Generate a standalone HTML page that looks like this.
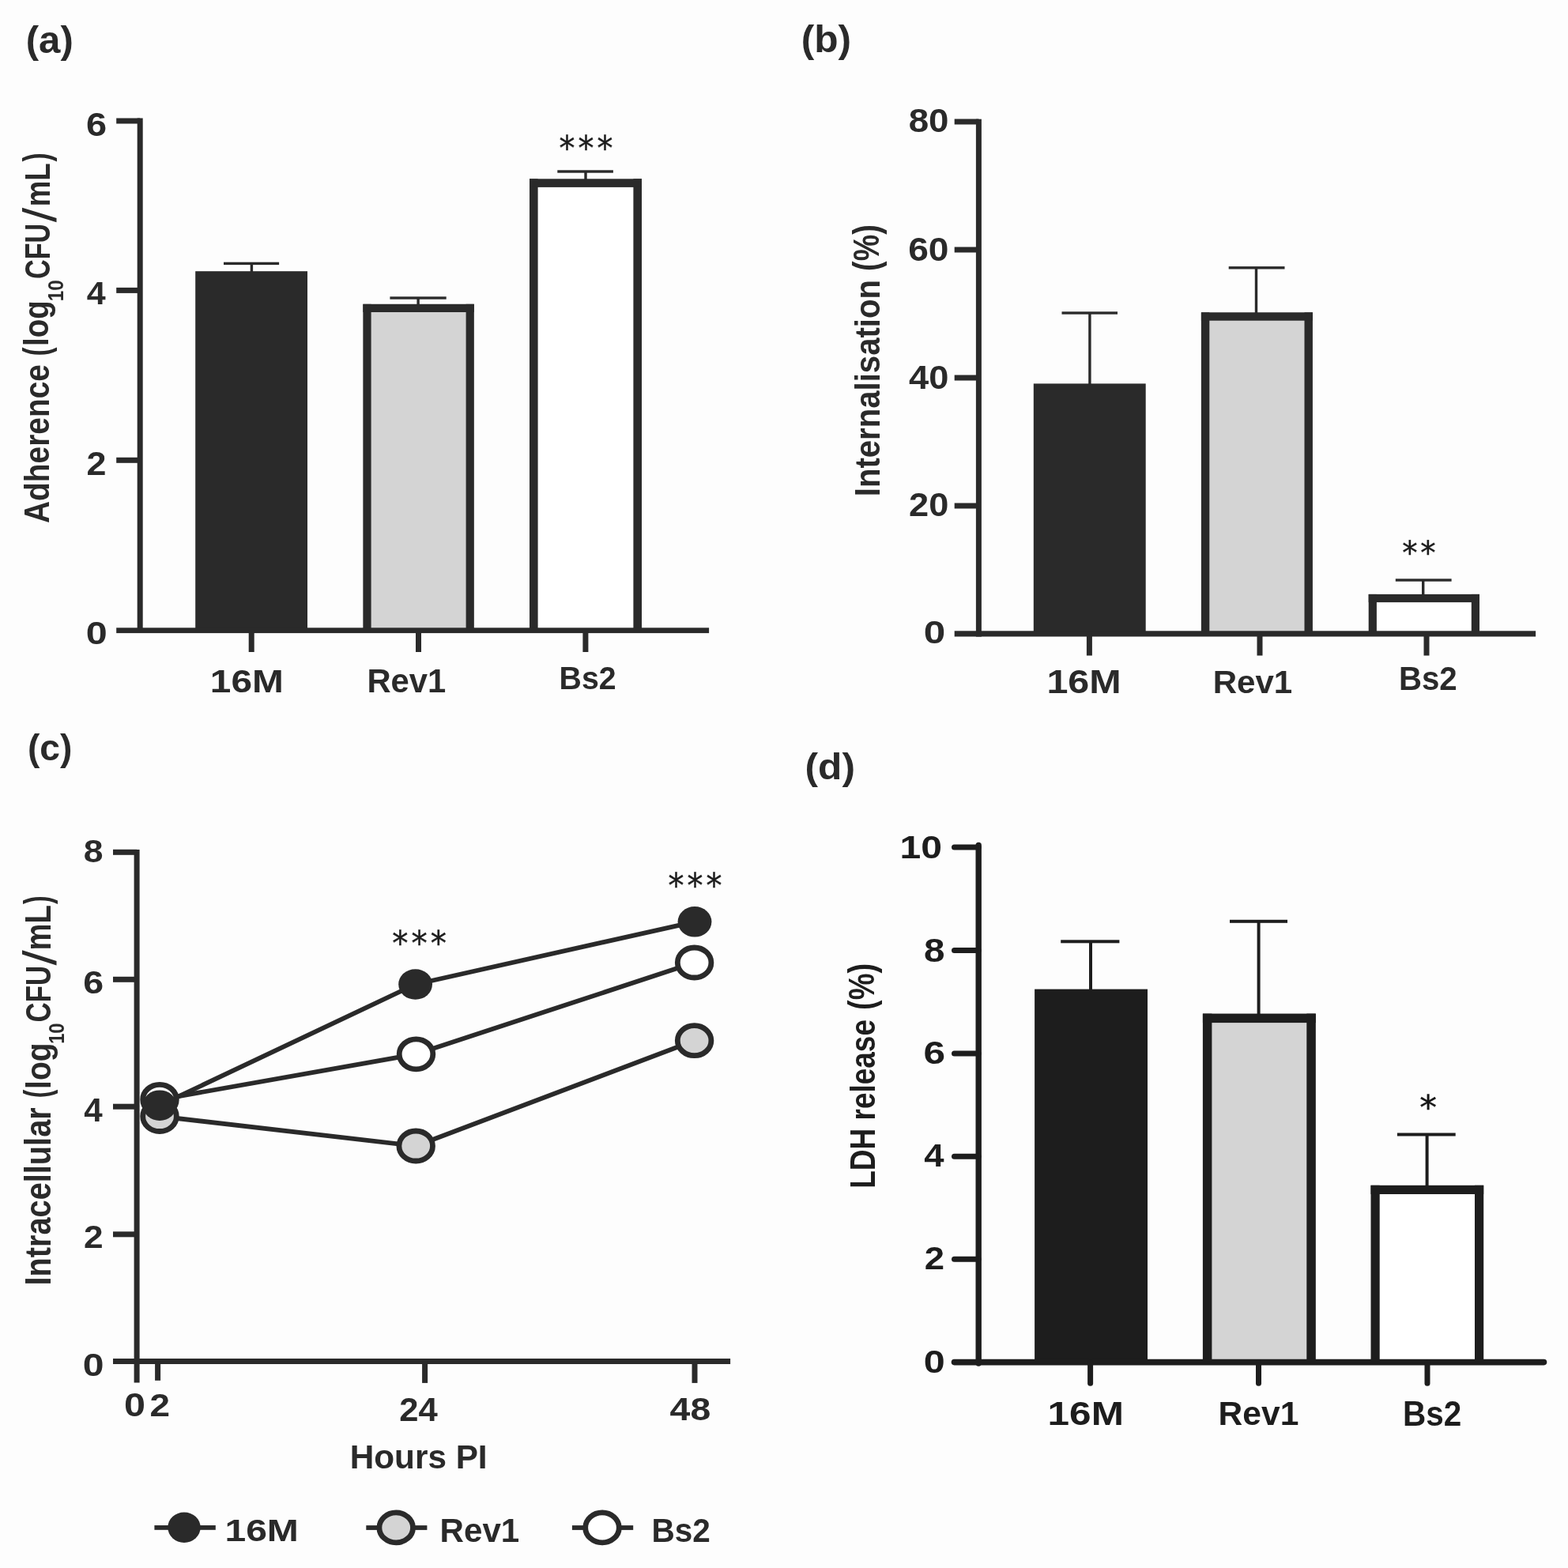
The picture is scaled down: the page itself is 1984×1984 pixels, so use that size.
<!DOCTYPE html>
<html><head><meta charset="utf-8"><title>Figure</title>
<style>
html,body{margin:0;padding:0;background:#fdfdfd;}
svg{display:block;}
</style></head>
<body>
<svg width="1984" height="1984" viewBox="0 0 1984 1984">
<rect x="0" y="0" width="1984" height="1984" fill="#fdfdfd"/>
<rect x="247.20" y="343.20" width="141.80" height="454.50" fill="#2a2a2a"/>
<rect x="459.40" y="384.80" width="140.40" height="412.90" fill="#d4d4d4"/>
<rect x="459.40" y="384.80" width="10.20" height="412.90" fill="#2a2a2a"/>
<rect x="589.60" y="384.80" width="10.20" height="412.90" fill="#2a2a2a"/>
<rect x="459.40" y="384.80" width="140.40" height="10.20" fill="#2a2a2a"/>
<rect x="670.00" y="226.30" width="142.00" height="571.40" fill="#ffffff"/>
<rect x="670.00" y="226.30" width="10.60" height="571.40" fill="#2a2a2a"/>
<rect x="801.40" y="226.30" width="10.60" height="571.40" fill="#2a2a2a"/>
<rect x="670.00" y="226.30" width="142.00" height="10.60" fill="#2a2a2a"/>
<rect x="316.70" y="333.40" width="3.40" height="10.80" fill="#2a2a2a"/>
<rect x="283.00" y="331.70" width="70.10" height="3.40" fill="#2a2a2a"/>
<rect x="527.40" y="377.00" width="3.40" height="8.80" fill="#2a2a2a"/>
<rect x="493.40" y="375.30" width="71.30" height="3.40" fill="#2a2a2a"/>
<rect x="739.30" y="217.00" width="3.40" height="10.30" fill="#2a2a2a"/>
<rect x="705.30" y="215.30" width="70.60" height="3.40" fill="#2a2a2a"/>
<rect x="1307.80" y="485.40" width="141.90" height="316.50" fill="#2a2a2a"/>
<rect x="1519.90" y="395.30" width="141.00" height="406.60" fill="#d4d4d4"/>
<rect x="1519.90" y="395.30" width="10.40" height="406.60" fill="#2a2a2a"/>
<rect x="1650.50" y="395.30" width="10.40" height="406.60" fill="#2a2a2a"/>
<rect x="1519.90" y="395.30" width="141.00" height="10.40" fill="#2a2a2a"/>
<rect x="1731.70" y="751.90" width="140.30" height="50.00" fill="#ffffff"/>
<rect x="1731.70" y="751.90" width="10.20" height="50.00" fill="#2a2a2a"/>
<rect x="1861.80" y="751.90" width="10.20" height="50.00" fill="#2a2a2a"/>
<rect x="1731.70" y="751.90" width="140.30" height="10.20" fill="#2a2a2a"/>
<rect x="1377.20" y="396.00" width="3.40" height="90.40" fill="#2a2a2a"/>
<rect x="1343.50" y="394.30" width="70.50" height="3.40" fill="#2a2a2a"/>
<rect x="1587.80" y="338.80" width="3.40" height="57.50" fill="#2a2a2a"/>
<rect x="1554.70" y="337.10" width="70.80" height="3.40" fill="#2a2a2a"/>
<rect x="1799.00" y="734.00" width="3.40" height="18.90" fill="#2a2a2a"/>
<rect x="1765.80" y="732.30" width="70.80" height="3.40" fill="#2a2a2a"/>
<rect x="1309.10" y="1251.60" width="142.90" height="472.00" fill="#1d1d1d"/>
<rect x="1521.90" y="1282.60" width="142.90" height="441.00" fill="#d4d4d4"/>
<rect x="1521.90" y="1282.60" width="11.50" height="441.00" fill="#1d1d1d"/>
<rect x="1653.30" y="1282.60" width="11.50" height="441.00" fill="#1d1d1d"/>
<rect x="1521.90" y="1282.60" width="142.90" height="11.50" fill="#1d1d1d"/>
<rect x="1734.50" y="1499.80" width="142.70" height="223.80" fill="#ffffff"/>
<rect x="1734.50" y="1499.80" width="11.20" height="223.80" fill="#1d1d1d"/>
<rect x="1866.00" y="1499.80" width="11.20" height="223.80" fill="#1d1d1d"/>
<rect x="1734.50" y="1499.80" width="142.70" height="11.20" fill="#1d1d1d"/>
<rect x="1378.00" y="1191.30" width="4.00" height="61.30" fill="#1d1d1d"/>
<rect x="1342.20" y="1189.30" width="74.20" height="4.00" fill="#1d1d1d"/>
<rect x="1590.60" y="1165.80" width="4.00" height="117.80" fill="#1d1d1d"/>
<rect x="1556.00" y="1163.80" width="73.00" height="4.00" fill="#1d1d1d"/>
<rect x="1803.60" y="1435.50" width="4.00" height="65.30" fill="#1d1d1d"/>
<rect x="1767.90" y="1433.50" width="73.80" height="4.00" fill="#1d1d1d"/>
<rect x="173.70" y="149.50" width="7.00" height="651.30" fill="#2a2a2a"/>
<rect x="147.20" y="794.30" width="749.90" height="6.80" fill="#2a2a2a"/>
<rect x="147.20" y="149.50" width="30.00" height="7.00" fill="#2a2a2a"/>
<rect x="147.20" y="363.90" width="30.00" height="7.00" fill="#2a2a2a"/>
<rect x="147.20" y="578.80" width="30.00" height="7.00" fill="#2a2a2a"/>
<rect x="314.70" y="797.00" width="7.00" height="28.00" fill="#2a2a2a"/>
<rect x="526.00" y="797.00" width="7.00" height="28.00" fill="#2a2a2a"/>
<rect x="737.40" y="797.00" width="7.00" height="28.00" fill="#2a2a2a"/>
<rect x="1234.90" y="150.70" width="7.00" height="654.90" fill="#2a2a2a"/>
<rect x="1207.70" y="798.30" width="735.40" height="7.20" fill="#2a2a2a"/>
<rect x="1207.70" y="150.50" width="30.70" height="7.00" fill="#2a2a2a"/>
<rect x="1207.70" y="312.50" width="30.70" height="7.00" fill="#2a2a2a"/>
<rect x="1207.70" y="474.50" width="30.70" height="7.00" fill="#2a2a2a"/>
<rect x="1207.70" y="636.50" width="30.70" height="7.00" fill="#2a2a2a"/>
<rect x="1374.90" y="801.00" width="7.00" height="28.50" fill="#2a2a2a"/>
<rect x="1590.50" y="801.00" width="7.00" height="28.50" fill="#2a2a2a"/>
<rect x="1801.50" y="801.00" width="7.00" height="28.50" fill="#2a2a2a"/>
<rect x="169.60" y="1075.00" width="7.00" height="674.50" fill="#2a2a2a"/>
<rect x="143.00" y="1719.00" width="781.10" height="7.00" fill="#2a2a2a"/>
<rect x="143.00" y="1074.80" width="30.10" height="7.00" fill="#2a2a2a"/>
<rect x="143.00" y="1235.80" width="30.10" height="7.00" fill="#2a2a2a"/>
<rect x="143.00" y="1396.70" width="30.10" height="7.00" fill="#2a2a2a"/>
<rect x="143.00" y="1558.30" width="30.10" height="7.00" fill="#2a2a2a"/>
<rect x="196.10" y="1722.00" width="7.00" height="24.80" fill="#2a2a2a"/>
<rect x="534.10" y="1722.00" width="7.00" height="27.90" fill="#2a2a2a"/>
<rect x="875.50" y="1722.00" width="7.00" height="27.90" fill="#2a2a2a"/>
<line x1="1238.20" y1="1069.50" x2="1238.20" y2="1725.00" stroke="#1d1d1d" stroke-width="7.4" stroke-linecap="round"/>
<line x1="1207.50" y1="1723.60" x2="1953.50" y2="1723.60" stroke="#1d1d1d" stroke-width="7.6" stroke-linecap="round"/>
<line x1="1207.50" y1="1072.00" x2="1238.20" y2="1072.00" stroke="#1d1d1d" stroke-width="7" stroke-linecap="round"/>
<line x1="1207.50" y1="1202.50" x2="1238.20" y2="1202.50" stroke="#1d1d1d" stroke-width="7" stroke-linecap="round"/>
<line x1="1207.50" y1="1333.00" x2="1238.20" y2="1333.00" stroke="#1d1d1d" stroke-width="7" stroke-linecap="round"/>
<line x1="1207.50" y1="1463.20" x2="1238.20" y2="1463.20" stroke="#1d1d1d" stroke-width="7" stroke-linecap="round"/>
<line x1="1207.50" y1="1593.20" x2="1238.20" y2="1593.20" stroke="#1d1d1d" stroke-width="7" stroke-linecap="round"/>
<line x1="1379.60" y1="1724.00" x2="1379.60" y2="1750.20" stroke="#1d1d1d" stroke-width="7" stroke-linecap="round"/>
<line x1="1592.50" y1="1724.00" x2="1592.50" y2="1750.20" stroke="#1d1d1d" stroke-width="7" stroke-linecap="round"/>
<line x1="1806.00" y1="1724.00" x2="1806.00" y2="1750.20" stroke="#1d1d1d" stroke-width="7" stroke-linecap="round"/>
<path d="M202.0,1412.5 L526.2,1450.0 L878.6,1316.7" fill="none" stroke="#2a2a2a" stroke-width="5.8" stroke-linejoin="round"/>
<path d="M202.0,1391.3 L526.5,1333.8 L878.6,1218.0" fill="none" stroke="#2a2a2a" stroke-width="5.8" stroke-linejoin="round"/>
<path d="M202.0,1398.7 L525.6,1245.5 L879.0,1166.3" fill="none" stroke="#2a2a2a" stroke-width="5.8" stroke-linejoin="round"/>
<ellipse cx="202.00" cy="1412.50" rx="21.3" ry="19.0" fill="#d4d4d4" stroke="#2a2a2a" stroke-width="6.8"/>
<ellipse cx="526.20" cy="1450.00" rx="21.3" ry="19.0" fill="#d4d4d4" stroke="#2a2a2a" stroke-width="6.8"/>
<ellipse cx="878.60" cy="1316.70" rx="21.3" ry="19.0" fill="#d4d4d4" stroke="#2a2a2a" stroke-width="6.8"/>
<ellipse cx="202.00" cy="1391.30" rx="21.3" ry="19.0" fill="#ffffff" stroke="#2a2a2a" stroke-width="6.8"/>
<ellipse cx="526.50" cy="1333.80" rx="21.3" ry="19.0" fill="#ffffff" stroke="#2a2a2a" stroke-width="6.8"/>
<ellipse cx="878.60" cy="1218.00" rx="21.3" ry="19.0" fill="#ffffff" stroke="#2a2a2a" stroke-width="6.8"/>
<ellipse cx="202.00" cy="1398.70" rx="21.4" ry="19.3" fill="#2a2a2a"/>
<ellipse cx="525.60" cy="1245.50" rx="21.4" ry="19.3" fill="#2a2a2a"/>
<ellipse cx="879.00" cy="1166.30" rx="21.4" ry="19.3" fill="#2a2a2a"/>
<rect x="195.40" y="1930.00" width="77.40" height="5.80" fill="#2a2a2a"/>
<ellipse cx="233.00" cy="1932.70" rx="20.7" ry="19.2" fill="#2a2a2a"/>
<rect x="463.30" y="1930.10" width="77.10" height="5.80" fill="#2a2a2a"/>
<ellipse cx="501.20" cy="1932.90" rx="21.3" ry="19.0" fill="#d4d4d4" stroke="#2a2a2a" stroke-width="6.8"/>
<rect x="723.90" y="1930.10" width="77.30" height="5.80" fill="#2a2a2a"/>
<ellipse cx="762.00" cy="1932.90" rx="21.3" ry="19.0" fill="#ffffff" stroke="#2a2a2a" stroke-width="6.8"/>
<text transform="matrix(0.49196,0,0,0.47872,32.740,66.547)" font-family="'Liberation Sans', sans-serif" font-weight="bold" font-size="100" fill="#2a2a2a">(a)</text>
<text transform="matrix(0.39878,0,0,0.42889,707.604,201.738)" font-family="'DejaVu Sans', sans-serif" font-weight="normal" font-size="100" letter-spacing="10" stroke="#1c1c1c" stroke-width="1" fill="#1c1c1c">***</text>
<text transform="matrix(0.46875,0,0,0.42254,109.025,171.577)" font-family="'Liberation Sans', sans-serif" font-weight="bold" font-size="100" fill="#2a2a2a">6</text>
<text transform="matrix(0.43019,0,0,0.40435,109.740,385.400)" font-family="'Liberation Sans', sans-serif" font-weight="bold" font-size="100" fill="#2a2a2a">4</text>
<text transform="matrix(0.44898,0,0,0.42143,109.553,601.300)" font-family="'Liberation Sans', sans-serif" font-weight="bold" font-size="100" fill="#2a2a2a">2</text>
<text transform="matrix(0.48511,0,0,0.41549,108.660,815.185)" font-family="'Liberation Sans', sans-serif" font-weight="bold" font-size="100" fill="#2a2a2a">0</text>
<text transform="matrix(0.47802,0,0,0.40845,265.832,875.992)" font-family="'Liberation Sans', sans-serif" font-weight="bold" font-size="100" fill="#2a2a2a">16M</text>
<text transform="matrix(0.41790,0,0,0.42571,464.375,876.174)" font-family="'Liberation Sans', sans-serif" font-weight="bold" font-size="100" fill="#2a2a2a">Rev1</text>
<text transform="matrix(0.39302,0,0,0.40845,707.549,872.492)" font-family="'Liberation Sans', sans-serif" font-weight="bold" font-size="100" fill="#2a2a2a">Bs2</text>
<text transform="matrix(0,-0.38863,0.44324,0,62.457,661.966)" font-family="'Liberation Sans', sans-serif" font-weight="bold" font-size="100" fill="#2a2a2a">Adherence</text>
<text transform="matrix(0,-0.33214,0.45532,0,61.738,450.461)" font-family="'Liberation Sans', sans-serif" font-weight="bold" font-size="100" fill="#2a2a2a">(</text>
<text transform="matrix(0,-0.38529,0.43830,0,61.296,437.897)" font-family="'Liberation Sans', sans-serif" font-weight="bold" font-size="100" fill="#2a2a2a">log</text>
<text transform="matrix(0,-0.24257,0.26761,0,79.932,381.155)" font-family="'Liberation Sans', sans-serif" font-weight="bold" font-size="100" fill="#2a2a2a">10</text>
<text transform="matrix(0,-0.34154,0.44930,0,63.051,352.966)" font-family="'Liberation Sans', sans-serif" font-weight="bold" font-size="100" fill="#2a2a2a">CFU</text>
<text transform="matrix(0,-0.66786,0.60000,0,70.800,281.300)" font-family="'Liberation Sans', sans-serif" font-weight="normal" font-size="100" fill="#2a2a2a">/</text>
<text transform="matrix(0,-0.36571,0.45072,0,62.700,261.260)" font-family="'Liberation Sans', sans-serif" font-weight="bold" font-size="100" fill="#2a2a2a">mL</text>
<text transform="matrix(0,-0.33214,0.45426,0,61.661,204.400)" font-family="'Liberation Sans', sans-serif" font-weight="bold" font-size="100" fill="#2a2a2a">)</text>
<text transform="matrix(0.49661,0,0,0.47447,1013.717,66.336)" font-family="'Liberation Sans', sans-serif" font-weight="bold" font-size="100" fill="#2a2a2a">(b)</text>
<text transform="matrix(0.38654,0,0,0.40000,1774.140,713.600)" font-family="'DejaVu Sans', sans-serif" font-weight="normal" font-size="100" letter-spacing="10" stroke="#1c1c1c" stroke-width="1" fill="#1c1c1c">**</text>
<text transform="matrix(0.45673,0,0,0.41831,1149.630,166.982)" font-family="'Liberation Sans', sans-serif" font-weight="bold" font-size="100" fill="#2a2a2a">80</text>
<text transform="matrix(0.46117,0,0,0.42254,1149.155,329.577)" font-family="'Liberation Sans', sans-serif" font-weight="bold" font-size="100" fill="#2a2a2a">60</text>
<text transform="matrix(0.45238,0,0,0.41831,1150.095,491.582)" font-family="'Liberation Sans', sans-serif" font-weight="bold" font-size="100" fill="#2a2a2a">40</text>
<text transform="matrix(0.45192,0,0,0.42394,1150.044,653.276)" font-family="'Liberation Sans', sans-serif" font-weight="bold" font-size="100" fill="#2a2a2a">20</text>
<text transform="matrix(0.49362,0,0,0.40282,1168.826,814.497)" font-family="'Liberation Sans', sans-serif" font-weight="bold" font-size="100" fill="#2a2a2a">0</text>
<text transform="matrix(0.48462,0,0,0.41972,1324.392,876.580)" font-family="'Liberation Sans', sans-serif" font-weight="bold" font-size="100" fill="#2a2a2a">16M</text>
<text transform="matrix(0.42052,0,0,0.41429,1534.656,876.586)" font-family="'Liberation Sans', sans-serif" font-weight="bold" font-size="100" fill="#2a2a2a">Rev1</text>
<text transform="matrix(0.40233,0,0,0.42394,1769.884,872.576)" font-family="'Liberation Sans', sans-serif" font-weight="bold" font-size="100" fill="#2a2a2a">Bs2</text>
<text transform="matrix(0,-0.40134,0.45135,0,1112.749,628.209)" font-family="'Liberation Sans', sans-serif" font-weight="bold" font-size="100" fill="#2a2a2a">Internalisation</text>
<text transform="matrix(0,-0.37740,0.46596,0,1111.815,342.887)" font-family="'Liberation Sans', sans-serif" font-weight="bold" font-size="100" fill="#2a2a2a">(%)</text>
<text transform="matrix(0.46161,0,0,0.47021,34.892,961.826)" font-family="'Liberation Sans', sans-serif" font-weight="bold" font-size="100" fill="#2a2a2a">(c)</text>
<text transform="matrix(0.44600,0,0,0.41408,105.662,1091.386)" font-family="'Liberation Sans', sans-serif" font-weight="bold" font-size="100" fill="#2a2a2a">8</text>
<text transform="matrix(0.46458,0,0,0.40845,105.142,1256.992)" font-family="'Liberation Sans', sans-serif" font-weight="bold" font-size="100" fill="#2a2a2a">6</text>
<text transform="matrix(0.42075,0,0,0.42029,106.158,1419.000)" font-family="'Liberation Sans', sans-serif" font-weight="bold" font-size="100" fill="#2a2a2a">4</text>
<text transform="matrix(0.44286,0,0,0.40857,105.971,1579.400)" font-family="'Liberation Sans', sans-serif" font-weight="bold" font-size="100" fill="#2a2a2a">2</text>
<text transform="matrix(0.48085,0,0,0.41127,104.777,1740.889)" font-family="'Liberation Sans', sans-serif" font-weight="bold" font-size="100" fill="#2a2a2a">0</text>
<text transform="matrix(0.48511,0,0,0.41972,157.060,1792.180)" font-family="'Liberation Sans', sans-serif" font-weight="bold" font-size="100" fill="#2a2a2a">0</text>
<text transform="matrix(0.45918,0,0,0.41429,189.422,1791.800)" font-family="'Liberation Sans', sans-serif" font-weight="bold" font-size="100" fill="#2a2a2a">2</text>
<text transform="matrix(0.43611,0,0,0.42571,505.292,1797.800)" font-family="'Liberation Sans', sans-serif" font-weight="bold" font-size="100" fill="#2a2a2a">24</text>
<text transform="matrix(0.46415,0,0,0.41549,847.572,1797.085)" font-family="'Liberation Sans', sans-serif" font-weight="bold" font-size="100" fill="#2a2a2a">48</text>
<text transform="matrix(0.42286,0,0,0.41714,442.740,1857.583)" font-family="'Liberation Sans', sans-serif" font-weight="bold" font-size="100" fill="#2a2a2a">Hours PI</text>
<text transform="matrix(0.40366,0,0,0.43111,496.289,1207.702)" font-family="'DejaVu Sans', sans-serif" font-weight="normal" font-size="100" letter-spacing="10" stroke="#1c1c1c" stroke-width="1" fill="#1c1c1c">***</text>
<text transform="matrix(0.39939,0,0,0.43111,845.602,1134.502)" font-family="'DejaVu Sans', sans-serif" font-weight="normal" font-size="100" letter-spacing="10" stroke="#1c1c1c" stroke-width="1" fill="#1c1c1c">***</text>
<text transform="matrix(0,-0.39749,0.45541,0,63.545,1626.582)" font-family="'Liberation Sans', sans-serif" font-weight="bold" font-size="100" fill="#2a2a2a">Intracellular</text>
<text transform="matrix(0,-0.31429,0.45851,0,62.871,1389.171)" font-family="'Liberation Sans', sans-serif" font-weight="bold" font-size="100" fill="#2a2a2a">(</text>
<text transform="matrix(0,-0.38897,0.44681,0,63.517,1377.923)" font-family="'Liberation Sans', sans-serif" font-weight="bold" font-size="100" fill="#2a2a2a">log</text>
<text transform="matrix(0,-0.23663,0.27042,0,80.630,1320.820)" font-family="'Liberation Sans', sans-serif" font-weight="bold" font-size="100" fill="#2a2a2a">10</text>
<text transform="matrix(0,-0.34769,0.44930,0,64.051,1293.391)" font-family="'Liberation Sans', sans-serif" font-weight="bold" font-size="100" fill="#2a2a2a">CFU</text>
<text transform="matrix(0,-0.69643,0.59589,0,71.200,1221.500)" font-family="'Liberation Sans', sans-serif" font-weight="normal" font-size="100" fill="#2a2a2a">/</text>
<text transform="matrix(0,-0.38214,0.45362,0,64.400,1202.475)" font-family="'Liberation Sans', sans-serif" font-weight="bold" font-size="100" fill="#2a2a2a">mL</text>
<text transform="matrix(0,-0.32143,0.45851,0,62.971,1144.000)" font-family="'Liberation Sans', sans-serif" font-weight="bold" font-size="100" fill="#2a2a2a">)</text>
<text transform="matrix(0.48077,0,0,0.39296,284.415,1949.807)" font-family="'Liberation Sans', sans-serif" font-weight="bold" font-size="100" fill="#2a2a2a">16M</text>
<text transform="matrix(0.42140,0,0,0.42286,556.550,1951.177)" font-family="'Liberation Sans', sans-serif" font-weight="bold" font-size="100" fill="#2a2a2a">Rev1</text>
<text transform="matrix(0.40523,0,0,0.42535,824.463,1951.175)" font-family="'Liberation Sans', sans-serif" font-weight="bold" font-size="100" fill="#2a2a2a">Bs2</text>
<text transform="matrix(0.49661,0,0,0.46170,1018.517,985.704)" font-family="'Liberation Sans', sans-serif" font-weight="bold" font-size="100" fill="#2a2a2a">(d)</text>
<text transform="matrix(0.43409,0,0,0.43333,1796.298,1415.867)" font-family="'DejaVu Sans', sans-serif" font-weight="normal" font-size="100" letter-spacing="10" stroke="#161616" stroke-width="1" fill="#161616">*</text>
<text transform="matrix(0.48119,0,0,0.41408,1138.513,1085.586)" font-family="'Liberation Sans', sans-serif" font-weight="bold" font-size="100" fill="#1d1d1d">10</text>
<text transform="matrix(0.47600,0,0,0.42254,1168.972,1216.577)" font-family="'Liberation Sans', sans-serif" font-weight="bold" font-size="100" fill="#1d1d1d">8</text>
<text transform="matrix(0.49583,0,0,0.40845,1168.417,1345.992)" font-family="'Liberation Sans', sans-serif" font-weight="bold" font-size="100" fill="#1d1d1d">6</text>
<text transform="matrix(0.45472,0,0,0.41304,1169.291,1475.900)" font-family="'Liberation Sans', sans-serif" font-weight="bold" font-size="100" fill="#1d1d1d">4</text>
<text transform="matrix(0.45510,0,0,0.41429,1169.835,1606.300)" font-family="'Liberation Sans', sans-serif" font-weight="bold" font-size="100" fill="#1d1d1d">2</text>
<text transform="matrix(0.48511,0,0,0.41268,1168.860,1736.887)" font-family="'Liberation Sans', sans-serif" font-weight="bold" font-size="100" fill="#1d1d1d">0</text>
<text transform="matrix(0.49560,0,0,0.42394,1325.526,1803.476)" font-family="'Liberation Sans', sans-serif" font-weight="bold" font-size="100" fill="#1d1d1d">16M</text>
<text transform="matrix(0.42576,0,0,0.43000,1541.620,1803.470)" font-family="'Liberation Sans', sans-serif" font-weight="bold" font-size="100" fill="#1d1d1d">Rev1</text>
<text transform="matrix(0.40465,0,0,0.44225,1774.967,1803.558)" font-family="'Liberation Sans', sans-serif" font-weight="bold" font-size="100" fill="#1d1d1d">Bs2</text>
<text transform="matrix(0,-0.36989,0.43514,0,1106.565,1503.789)" font-family="'Liberation Sans', sans-serif" font-weight="bold" font-size="100" fill="#1d1d1d">LDH release</text>
<text transform="matrix(0,-0.38014,0.47021,0,1105.926,1277.901)" font-family="'Liberation Sans', sans-serif" font-weight="bold" font-size="100" fill="#1d1d1d">(%)</text>
</svg>
</body></html>
